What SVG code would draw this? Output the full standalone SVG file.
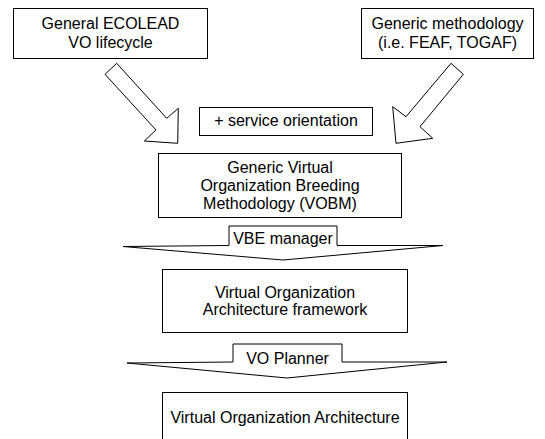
<svg xmlns="http://www.w3.org/2000/svg" width="545" height="439" viewBox="0 0 545 439">
<style>
.box{fill:#fff;stroke:#000;stroke-width:1}
.arr{fill:#fff;stroke:#000;stroke-width:1;stroke-linejoin:miter}
text{font-family:"Liberation Sans",Arial,sans-serif;font-size:16px;fill:#000;text-anchor:middle}
</style>
<rect width="545" height="439" fill="#fff"/>
<g id="connectors">
<polygon class="arr" points="116.7,63.3 166.7,118.3 178.3,108.3 177.7,143.3 144.3,141 156,130 105,74.3"/>
<polygon class="arr" points="451,63.3 463.3,74.3 420,126.7 432.7,138.3 396,143.3 392.7,106.7 406,116.7"/>
<g id="vbe-manager">
<polygon class="arr" points="229,226 337,226 337,245.5 443,245.5 283,260 123,246.5 229,245.5"/>
<text x="283" y="244">VBE manager</text>
</g>
<g id="vo-planner">
<polygon class="arr" points="233,344 342,344 342,362 447,362 287,378 127,363 233,362"/>
<text x="287.5" y="364">VO Planner</text>
</g>
</g>
<g id="ecolead">
<rect class="box" x="13.5" y="8.5" width="194" height="50"/>
<text x="110.5" y="28.5">General ECOLEAD</text>
<text x="110.5" y="48">VO lifecycle</text>
</g>
<g id="generic-methodology">
<rect class="box" x="361.5" y="8.5" width="172" height="50"/>
<text x="447.5" y="28.5">Generic methodology</text>
<text x="447.5" y="48">(i.e. FEAF, TOGAF)</text>
</g>
<g id="service-orientation">
<rect class="box" x="199.5" y="107.5" width="173" height="28"/>
<text x="286" y="126">+ service orientation</text>
</g>
<g id="vobm">
<rect class="box" x="158.5" y="153.5" width="243" height="64"/>
<text x="280" y="173">Generic Virtual</text>
<text x="280" y="191">Organization Breeding</text>
<text x="280" y="209">Methodology (VOBM)</text>
</g>
<g id="voaf">
<rect class="box" x="162.5" y="269.5" width="245" height="63"/>
<text x="285" y="297.5">Virtual Organization</text>
<text x="285" y="314.5">Architecture framework</text>
</g>
<g id="voa">
<rect class="box" x="162.5" y="392.5" width="245" height="60"/>
<text x="285" y="423">Virtual Organization Architecture</text>
</g>
</svg>
